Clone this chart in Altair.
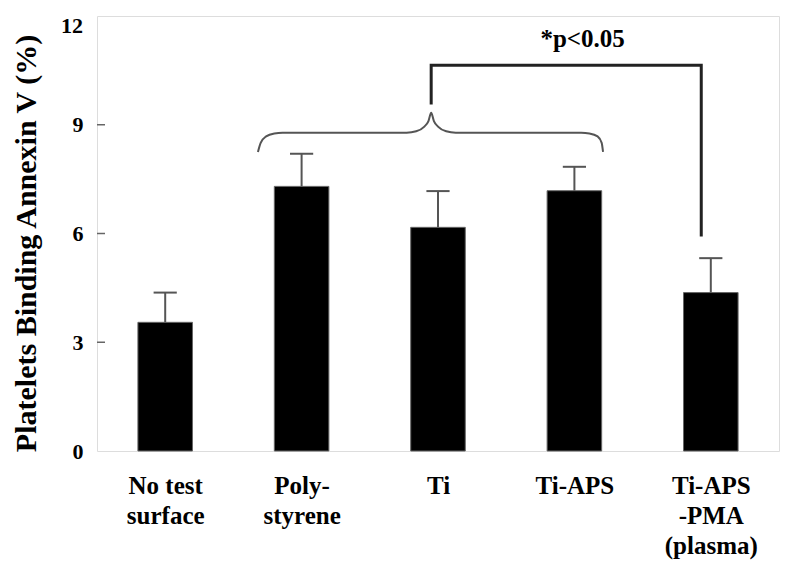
import altair as alt
import pandas as pd

categories = ["No test\nsurface", "Poly-\nstyrene", "Ti", "Ti-APS", "Ti-APS\n-PMA\n(plasma)"]
means = [3.55, 7.3, 6.17, 7.18, 4.37]
errors = [0.82, 0.9, 1.0, 0.66, 0.95]
y_ticks = [0, 3, 6, 9, 12]

# annotation geometry (category-index units, value units)
brace_x = [0.68, 0.70, 0.74, 0.80, 0.86, 1.77, 1.84, 1.90, 1.93, 1.95,
           1.97, 2.00, 2.06, 2.13, 3.05, 3.11, 3.17, 3.20, 3.21]
brace_y = [8.25, 8.5, 8.68, 8.76, 8.78, 8.78, 8.82, 8.95, 9.1, 9.33,
           9.1, 8.95, 8.82, 8.78, 8.78, 8.76, 8.68, 8.5, 8.25]
bracket_x = [1.95, 1.95, 3.93, 3.93]
bracket_y = [9.56, 10.64, 10.64, 5.92]
sig_text = "*p<0.05"
sig_pos = (3.06, 11.14)

FONT = "Liberation Serif"

df = pd.DataFrame({
    "idx": list(range(len(categories))),
    "name": categories,
    "mean": means,
    "err": errors,
})
df["top"] = df["mean"] + df["err"]
df["base"] = 0.0

label_list = "[" + ",".join("'" + c.replace("\n", "|") + "'" for c in categories) + "]"
label_expr = f"split({label_list}[datum.value], '|')"

xscale = alt.Scale(domain=[-0.5, len(categories) - 0.5], nice=False, zero=False)
yscale = alt.Scale(domain=[0, 12], nice=False)

base = alt.Chart(df)

bars = base.mark_bar(color="black", stroke="#666", strokeWidth=1).transform_calculate(
    lo="datum.idx - 0.2", hi="datum.idx + 0.2"
).encode(
    x=alt.X("lo:Q", scale=xscale, axis=alt.Axis(
        values=list(range(len(categories))), labelExpr=label_expr, title=None,
        ticks=False, domain=False, grid=False, labelFont=FONT, labelFontSize=25,
        labelFontWeight="bold", labelColor="black", labelPadding=22,
        labelLineHeight=30, labelBaseline="top")),
    x2="hi:Q",
    y=alt.Y("mean:Q", scale=yscale, axis=alt.Axis(
        values=y_ticks[:-1], title="Platelets Binding Annexin V (%)", ticks=False,
        domain=False, grid=False, labelFont=FONT, labelFontSize=22,
        labelFontWeight="bold", labelColor="black", labelPadding=14,
        titleFont=FONT, titleFontSize=30, titleFontWeight="bold",
        titleColor="black", titlePadding=31, titleY=227)),
    y2="base:Q",
)

# top tick label drawn just inside the canvas (as in the reference)
top_df = pd.DataFrame({"v": [y_ticks[-1]], "t": [str(y_ticks[-1])]})
top_label = alt.Chart(top_df).mark_text(
    font=FONT, fontSize=22, fontWeight="bold", color="black",
    align="right", baseline="middle", dy=10
).encode(x=alt.value(-14), y="v:Q", text="t:N")

err_line = base.mark_rule(color="#555", strokeWidth=2).encode(
    x="idx:Q", y="mean:Q", y2="top:Q"
)
err_cap = base.mark_rule(color="#555", strokeWidth=2).transform_calculate(
    lo="datum.idx - 0.085", hi="datum.idx + 0.085"
).encode(x="lo:Q", x2="hi:Q", y="top:Q")

tick_df = pd.DataFrame({"v": y_ticks[1:-1]})
yticks = alt.Chart(tick_df).mark_rule(color="#666", strokeWidth=1.5).encode(
    x=alt.value(0), x2=alt.value(8), y="v:Q"
)

brace_df = pd.DataFrame({"x": brace_x, "y": brace_y, "o": list(range(len(brace_x)))})
brace = alt.Chart(brace_df).mark_line(color="#555", strokeWidth=2, interpolate="monotone").encode(
    x="x:Q", y="y:Q", order="o:Q"
)

bracket_df = pd.DataFrame({"x": bracket_x, "y": bracket_y, "o": list(range(len(bracket_x)))})
bracket = alt.Chart(bracket_df).mark_line(color="#222", strokeWidth=3).encode(
    x="x:Q", y="y:Q", order="o:Q"
)

sig_df = pd.DataFrame({"x": [sig_pos[0]], "y": [sig_pos[1]], "t": [sig_text]})
sig = alt.Chart(sig_df).mark_text(font=FONT, fontSize=25, fontWeight="bold",
                                  color="black", baseline="alphabetic", align="center").encode(
    x="x:Q", y="y:Q", text="t:N"
)

chart = alt.layer(bars, err_line, err_cap, yticks, brace, bracket, sig, top_label).properties(
    width=682, height=435,
    autosize=alt.AutoSizeParams(type="none"),
    padding={"left": 89, "top": 8, "right": 9, "bottom": 120},
).configure_view(stroke="#888", strokeWidth=3).configure(background="white")

chart.save("out.html", embed_options={"renderer": "svg", "actions": False})
